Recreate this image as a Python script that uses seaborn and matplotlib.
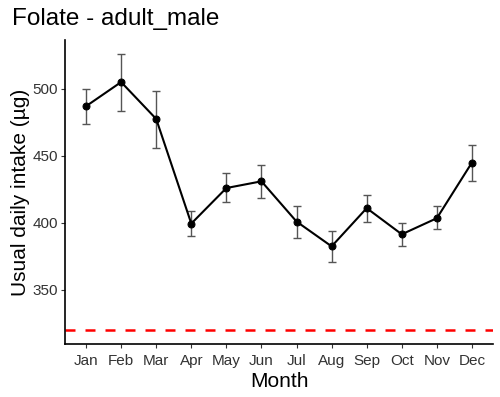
import matplotlib
matplotlib.use("Agg")
import matplotlib.pyplot as plt
import seaborn as sns
import numpy as np
import pandas as pd

months = ["Jan", "Feb", "Mar", "Apr", "May", "Jun", "Jul", "Aug", "Sep", "Oct", "Nov", "Dec"]
intake = [487, 505, 477.5, 399.5, 426, 431, 401, 382.5, 411, 391.5, 403.5, 445]
lower = [474, 483.5, 456, 390, 415.5, 418.5, 389, 371, 401, 382.5, 395.5, 431.5]
upper = [500, 526, 498.5, 408.5, 437, 443, 412.5, 394, 420.5, 400, 412.5, 458]
ear_value = 320

sns.set_theme(style="ticks")
plt.rcParams['font.family'] = ['Liberation Sans', 'DejaVu Sans']

df = pd.DataFrame({"Month": months, "intake": intake, "lower": lower, "upper": upper})
df["pos"] = np.arange(len(months))

fig = plt.figure(figsize=(5, 3.97), dpi=100)
ax = fig.add_axes([0.13, 0.1335, 0.856, 0.7655])

ax.errorbar(df["pos"], df["intake"],
            yerr=[df["intake"] - df["lower"], df["upper"] - df["intake"]],
            fmt="none", ecolor="#555555", elinewidth=1.0, capsize=2.6, capthick=1.0, zorder=2)
sns.lineplot(data=df, x="pos", y="intake", ax=ax, color="black", linewidth=1.5,
             marker="o", markersize=5, markeredgecolor="black", zorder=3)
ax.axhline(ear_value, color="#FF0000", linestyle=(0, (4, 4)), linewidth=1.8, zorder=1)

ax.set_xlim(-0.6, 11.6)
ax.set_ylim(309.7, 536.3)
ax.set_xticks(df["pos"])
ax.set_xticklabels(months)
ax.set_yticks([350, 400, 450, 500])
ax.set_xlabel("Month", fontsize=15, color="black", labelpad=3)
ax.set_ylabel("Usual daily intake (\u00b5g)", fontsize=15, color="black", labelpad=2)
ax.tick_params(axis="both", labelsize=11, colors="#333333", length=3, width=0.8, labelcolor="#333333")
ax.tick_params(axis="x", pad=4)
ax.tick_params(axis="y", pad=2)
for s in ["top", "right"]:
    ax.spines[s].set_visible(False)
for s in ["left", "bottom"]:
    ax.spines[s].set_color("black")
    ax.spines[s].set_linewidth(1.2)
fig.text(0.024, 0.953, "Folate - adult_male", fontsize=17.5, ha="left", va="center", color="black")

fig.savefig("out.png", dpi=100)
